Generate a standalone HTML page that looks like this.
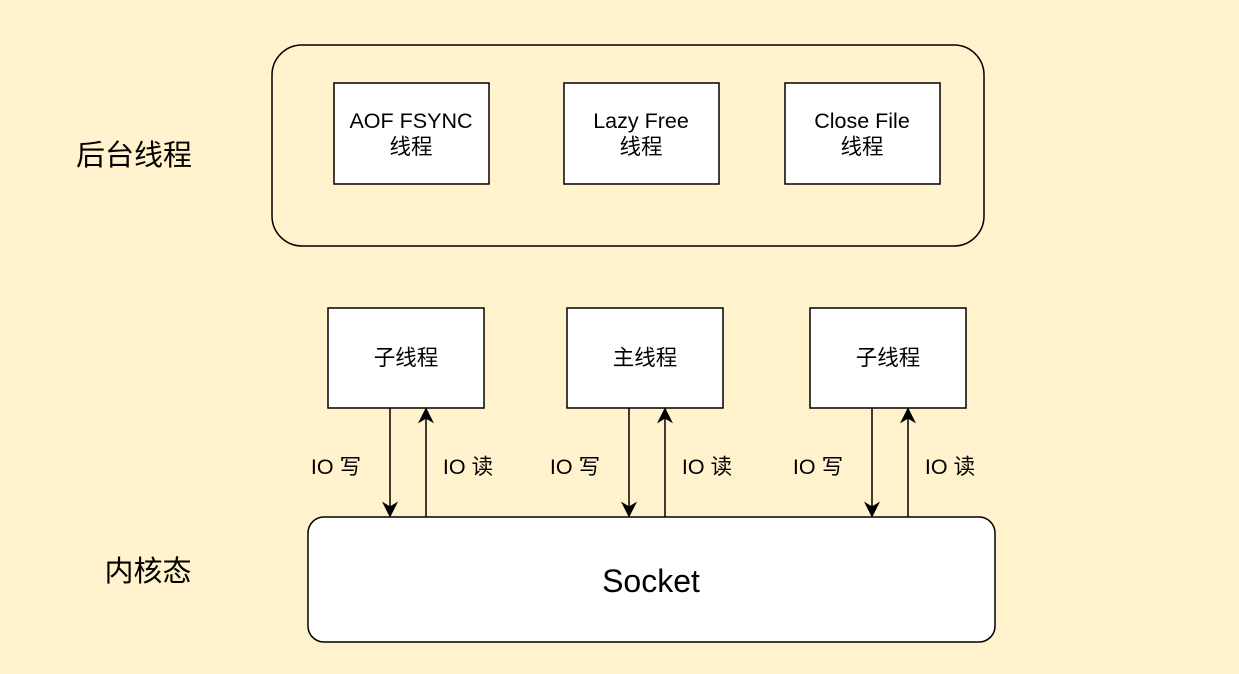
<!DOCTYPE html>
<html><head><meta charset="utf-8"><style>
body{margin:0;background:#fff2cc;}
svg{display:block}
text{font-family:"Liberation Sans","Noto Sans CJK SC",sans-serif;fill:#000}
</style></head><body>
<svg width="1239" height="674" viewBox="0 0 1239 674">
<rect width="1239" height="674" fill="#fff2cc"/>
<defs>
<marker id="b" viewBox="0 0 10 10" refX="9" refY="5" markerWidth="16" markerHeight="16" orient="auto" markerUnits="userSpaceOnUse"><path d="M0,0 L10,5 L0,10 L3,5 z" fill="#000"/></marker></defs>
<rect x="272" y="45" width="712" height="201" rx="30" fill="#fff2cc" stroke="#000" stroke-width="1.5"/>
<g fill="#fff" stroke="#000" stroke-width="1.5">
<rect x="334" y="83" width="155" height="101"/>
<rect x="564" y="83" width="155" height="101"/>
<rect x="785" y="83" width="155" height="101"/>
<rect x="328" y="308" width="156" height="100"/>
<rect x="567" y="308" width="156" height="100"/>
<rect x="810" y="308" width="156" height="100"/>
<rect x="308" y="517" width="687" height="125" rx="16"/>
</g>
<g font-size="21.5" text-anchor="middle">
<text x="411" y="128">AOF FSYNC</text><text x="411" y="154">线程</text>
<text x="641" y="128">Lazy Free</text><text x="641" y="154">线程</text>
<text x="862" y="128">Close File</text><text x="862" y="154">线程</text>
<text x="406" y="365">子线程</text>
<text x="645" y="365">主线程</text>
<text x="888" y="365">子线程</text>
</g>
<text x="134" y="165" font-size="29" text-anchor="middle">后台线程</text>
<text x="148" y="581" font-size="29" text-anchor="middle">内核态</text>
<text x="651" y="592" font-size="32" text-anchor="middle">Socket</text>
<g stroke="#000" stroke-width="1.5" marker-end="url(#b)">
<line x1="390" y1="408" x2="390" y2="516"/>
<line x1="426" y1="517" x2="426" y2="409"/>
<line x1="629" y1="408" x2="629" y2="516"/>
<line x1="665" y1="517" x2="665" y2="409"/>
<line x1="872" y1="408" x2="872" y2="516"/>
<line x1="908" y1="517" x2="908" y2="409"/>
</g>
<g font-size="21.5" text-anchor="middle">
<text x="336" y="474">IO 写</text><text x="468" y="474">IO 读</text>
<text x="575" y="474">IO 写</text><text x="707" y="474">IO 读</text>
<text x="818" y="474">IO 写</text><text x="950" y="474">IO 读</text>
</g>
</svg>
</body></html>
